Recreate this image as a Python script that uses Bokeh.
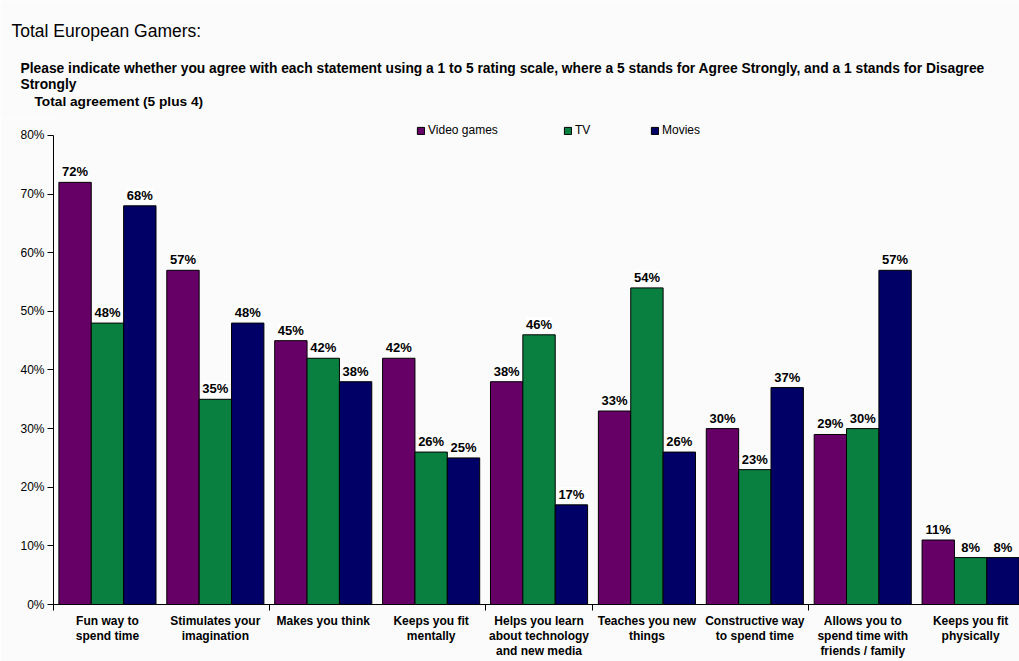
from bokeh.plotting import figure
from bokeh.layouts import column
from bokeh.models import (Range1d, FixedTicker, PrintfTickFormatter, ColumnDataSource,
                          LabelSet, Legend, LegendItem)
from bokeh.core.properties import value
from bokeh.transform import dodge
from bokeh.embed import file_html
from bokeh.resources import INLINE

# ---- data ----
categories = [
    "Fun way to\nspend time",
    "Stimulates your\nimagination",
    "Makes you think",
    "Keeps you fit\nmentally",
    "Helps you learn\nabout technology\nand new media",
    "Teaches you new\nthings",
    "Constructive way\nto spend time",
    "Allows you to\nspend time with\nfriends / family",
    "Keeps you fit\nphysically",
]
series_names = ["Video games", "TV", "Movies"]
video_games = [72, 57, 45, 42, 38, 33, 30, 29, 11]
tv = [48, 35, 42, 26, 46, 54, 23, 30, 8]
movies = [68, 48, 38, 25, 17, 26, 37, 57, 8]
y_ticks = [0, 10, 20, 30, 40, 50, 60, 70, 80]
series_colors = ["#660066", "#0a8040", "#000066"]

title_text = "Total European Gamers:"
subtitle_lines = [
    "Please indicate whether you agree with each statement using a 1 to 5 rating scale, "
    "where a 5 stands for Agree Strongly, and a 1 stands for Disagree",
    "Strongly",
]
note_text = "Total agreement (5 plus 4)"

FONT = "Liberation Sans"
BG = "#fbfbfb"
W = 1019
HEADER_H = 118
CHART_H = 661 - HEADER_H
BOTTOM = 56

# ---- header (titles) ----
h = figure(width=W, height=HEADER_H, output_backend="svg", toolbar_location=None,
           x_range=Range1d(0, W), y_range=Range1d(HEADER_H, 0),
           x_axis_location=None, y_axis_location=None,
           min_border=0, min_border_left=0, min_border_right=0,
           min_border_top=0, min_border_bottom=0, frame_align=False)
h.background_fill_color = BG
h.border_fill_color = BG
h.outline_line_color = None
h.grid.visible = False
h.text(x=[11], y=[30], text=[title_text], text_font=value(FONT),
       text_font_size=value("17.5px"), text_baseline="middle", text_color="black")
h.text(x=[20, 20], y=[68, 84], text=subtitle_lines, text_font=value(FONT),
       text_font_size=value("13.8px"), text_font_style="bold", text_baseline="middle",
       text_color="black")
h.text(x=[34], y=[101], text=[note_text], text_font=value(FONT),
       text_font_size=value("13.7px"), text_font_style="bold", text_baseline="middle",
       text_color="black")

# ---- chart ----
idx = list(range(len(categories)))
source = ColumnDataSource(data=dict(
    x=idx,
    video=video_games, tv=tv, movies=movies,
    video_lbl=[f"{v}%" for v in video_games],
    tv_lbl=[f"{v}%" for v in tv],
    movies_lbl=[f"{v}%" for v in movies],
))

# frame: top at canvas y=118, bottom at canvas y=605; 80% sits at canvas y=135
frame_h = CHART_H - BOTTOM
px_per_unit = (frame_h - (135 - HEADER_H)) / 80.0
y_top = 80 + (135 - HEADER_H) / px_per_unit

p = figure(width=W, height=CHART_H, output_backend="svg", toolbar_location=None,
           x_range=Range1d(-0.5, 8.453), y_range=Range1d(0, y_top),
           min_border_left=53, min_border_right=0, min_border_top=0, min_border_bottom=BOTTOM,
           frame_align=False)
p.background_fill_color = BG
p.border_fill_color = BG
p.outline_line_color = None
p.grid.visible = False

cols = ["video", "tv", "movies"]
offsets = [-0.3, 0.0, 0.3]
renderers = []
for col, off, color in zip(cols, offsets, series_colors):
    r = p.vbar(x=dodge("x", off, range=p.x_range), top=col, width=0.3, source=source,
               fill_color=color, line_color="black", line_width=1)
    renderers.append(r)
    lbl = LabelSet(x=dodge("x", off, range=p.x_range), y=col, text=col + "_lbl", source=source,
                   y_offset=3, text_align="center", text_baseline="bottom",
                   text_font=value(FONT), text_font_size=value("13px"),
                   text_font_style="bold", text_color="black",
                   background_fill_color="white")
    p.add_layout(lbl)

# axes
xa = p.xaxis[0]
xa.ticker = FixedTicker(ticks=idx, minor_ticks=[-0.5, 1.5, 3.5, 4.5, 6.5])
xa.major_label_overrides = {i: c for i, c in zip(idx, categories)}
xa.major_tick_out = 0
xa.major_tick_in = 0
xa.minor_tick_out = 6
xa.minor_tick_in = 0
xa.minor_tick_line_color = "black"
xa.axis_line_color = "black"
xa.major_label_standoff = 3
xa.major_label_text_font = FONT
xa.major_label_text_font_size = "12px"
xa.major_label_text_font_style = "bold"
xa.major_label_text_color = "black"
xa.major_label_text_line_height = 1.1

ya = p.yaxis[0]
ya.ticker = FixedTicker(ticks=y_ticks)
ya.formatter = PrintfTickFormatter(format="%d%%")
ya.bounds = (0, 80)
ya.major_tick_out = 6
ya.major_tick_in = 0
ya.minor_tick_out = 0
ya.minor_tick_in = 0
ya.major_tick_line_color = "black"
ya.axis_line_color = "black"
ya.major_label_standoff = 3
ya.major_label_text_font = FONT
ya.major_label_text_font_size = "12px"
ya.major_label_text_color = "black"

# legends (three separate entries, placed along the top of the frame)
legend_x = [363, 510, 597]
legend_y = frame_h - (138 - HEADER_H)
for name, r, lx in zip(series_names, renderers, legend_x):
    lg = Legend(items=[LegendItem(label=name, renderers=[r])], location=(lx, legend_y),
                orientation="horizontal", padding=0, margin=0, spacing=0,
                border_line_color=None, background_fill_alpha=0,
                glyph_width=9, glyph_height=9, label_standoff=3,
                label_text_font=FONT, label_text_font_size="12px", label_text_color="black")
    p.add_layout(lg)

layout = column(h, p, spacing=0)
open("out.html", "w").write(file_html(layout, INLINE))
